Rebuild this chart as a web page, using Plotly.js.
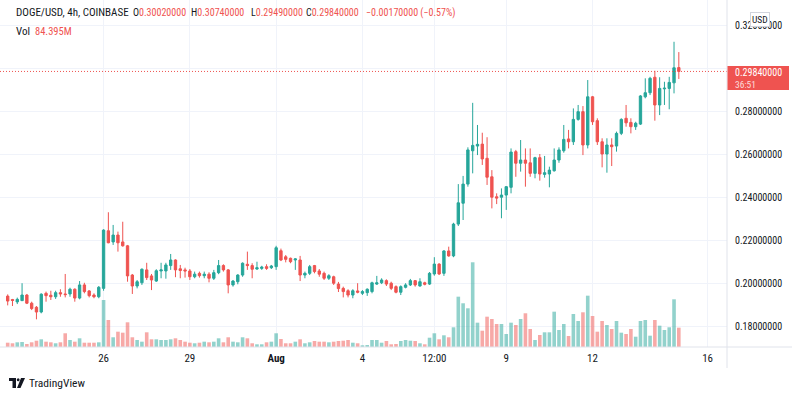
<!DOCTYPE html>
<html>
<head>
<meta charset="utf-8">
<script src="https://cdn.plot.ly/plotly-3.0.1.min.js"></script>
<style>html,body{margin:0;padding:0;background:#fff;}#chart{width:800px;height:397px;}</style>
</head>
<body>
<div id="chart"></div>
<script>
// 4h candles, DOGE/USD (Coinbase), starting 2021-07-22 16:00
const startTime = '2021-07-22T16:00:00Z';
const open = [
.1939,.1923,.1912,.1918,.1944,.1906,.1887,.1865,.1952,.1943,
.1936,.1955,.1949,.1949,.1971,.1930,.1991,.1963,.1944,.1936,
.1975,.2243,.2191,.2223,.2191,.2173,.2037,.1986,.2001,.2061,
.2033,.2009,.2056,.2056,.2081,.2107,.2066,.2061,.2056,.2029,
.2045,.2034,.2041,.2022,.2048,.2081,.2061,.1991,.2006,.2037,
.2087,.2081,.2065,.2068,.2076,.2071,.2076,.2150,.2122,.2115,
.2107,.2107,.2037,.2045,.2081,.2056,.2045,.2022,.2029,.1995,
.1975,.1964,.1944,.1963,.1952,.1955,.1960,.1995,.2001,.2011,
.1999,.1983,.1957,.1980,.1991,.2011,.1986,.2001,.1995,.2042,
.2088,.2045,.2149,.2126,.2274,.2371,.2460,.2615,.2637,.2646,
.2580,.2494,.2401,.2399,.2409,.2445,.2611,.2557,.2572,.2559,
.2510,.2583,.2505,.2507,.2522,.2572,.2615,.2670,.2657,.2761,
.2797,.2642,.2866,.2755,.2657,.2600,.2642,.2637,.2696,.2766,
.2747,.2727,.2739,.2866,.2885,.2957,.2828,.2903,.2905,.2931,
.3002];
const high = [
.1947,.1926,.1932,.1999,.1949,.1913,.1893,.1952,.1960,.1964,
.1964,.1971,.2042,.1978,.1975,.2009,.2001,.1967,.1952,.1986,
.2250,.2329,.2270,.2239,.2285,.2177,.2042,.2014,.2068,.2094,
.2042,.2064,.2094,.2094,.2135,.2110,.2084,.2071,.2065,.2053,
.2053,.2053,.2050,.2061,.2107,.2087,.2065,.2014,.2041,.2096,
.2146,.2092,.2099,.2080,.2087,.2084,.2173,.2160,.2130,.2118,
.2115,.2126,.2053,.2084,.2084,.2065,.2053,.2041,.2034,.2005,
.1983,.1971,.1971,.1999,.1967,.1975,.2006,.2033,.2022,.2017,
.2006,.1989,.1989,.1999,.2019,.2014,.2022,.2006,.2051,.2120,
.2092,.2153,.2169,.2280,.2460,.2498,.2631,.2838,.2735,.2699,
.2678,.2525,.2417,.2440,.2451,.2626,.2619,.2665,.2626,.2626,
.2587,.2600,.2591,.2541,.2626,.2631,.2735,.2712,.2812,.2828,
.2823,.2944,.2870,.2766,.2673,.2673,.2673,.2704,.2766,.2828,
.2766,.2750,.2874,.2952,.2959,.2987,.2957,.2936,.2959,.3122,
.3074];
const low = [
.1896,.1893,.1902,.1916,.1902,.1874,.1831,.1859,.1913,.1921,
.1926,.1936,.1933,.1936,.1913,.1924,.1952,.1933,.1929,.1929,
.1964,.2185,.2177,.2146,.2169,.2006,.1949,.1975,.1991,.2014,
.1967,.2005,.2022,.2020,.2061,.2027,.2022,.2025,.2014,.2022,
.2025,.2022,.2003,.2014,.2041,.2053,.1952,.1983,.1994,.2029,
.2061,.2022,.2061,.2061,.2061,.2065,.2061,.2102,.2096,.2092,
.2061,.2009,.2022,.2037,.2045,.2029,.2014,.2014,.1991,.1958,
.1933,.1933,.1929,.1952,.1944,.1940,.1952,.1991,.1995,.1986,
.1967,.1952,.1944,.1975,.1986,.1983,.1983,.1989,.1991,.2034,
.2037,.2033,.2122,.2120,.2265,.2293,.2448,.2510,.2595,.2549,
.2456,.2347,.2367,.2301,.2340,.2417,.2494,.2518,.2448,.2494,
.2487,.2476,.2490,.2445,.2518,.2559,.2606,.2626,.2642,.2755,
.2595,.2626,.2735,.2642,.2538,.2513,.2544,.2611,.2688,.2727,
.2696,.2712,.2735,.2859,.2874,.2755,.2781,.2828,.2808,.2882,
.2949];
const close = [
.1916,.1919,.1924,.1944,.1906,.1881,.1865,.1948,.1941,.1936,
.1955,.1949,.1946,.1971,.1930,.1991,.1960,.1941,.1936,.1980,
.2246,.2187,.2223,.2187,.2173,.2033,.1986,.2006,.2064,.2025,
.2014,.2057,.2061,.2084,.2107,.2061,.2058,.2056,.2029,.2041,
.2034,.2041,.2022,.2048,.2081,.2061,.1991,.2009,.2037,.2092,
.2081,.2064,.2071,.2074,.2068,.2079,.2164,.2107,.2110,.2099,
.2112,.2037,.2045,.2076,.2053,.2041,.2022,.2034,.1999,.1974,
.1960,.1944,.1964,.1957,.1960,.1971,.2001,.2001,.2014,.1995,
.1975,.1957,.1983,.1991,.2011,.1991,.2006,.1994,.2045,.2088,
.2042,.2149,.2126,.2274,.2373,.2460,.2619,.2640,.2645,.2577,
.2492,.2399,.2395,.2409,.2448,.2609,.2557,.2572,.2557,.2510,
.2583,.2507,.2513,.2525,.2572,.2619,.2668,.2657,.2761,.2797,
.2642,.2866,.2750,.2657,.2600,.2642,.2634,.2696,.2761,.2745,
.2727,.2743,.2870,.2885,.2952,.2828,.2905,.2906,.2933,.3001,
.2984];
// volume, millions of DOGE
const volume = [
18.8,16.2,20.5,21.9,13.1,20.5,27.5,33.6,23.2,20.5,
16.2,20.5,59.9,30.6,23.2,38.0,18.8,18.8,18.8,20.5,
205.4,118.0,42.4,66.9,62.5,107.9,42.4,30.6,23.2,64.2,
33.6,33.6,30.6,30.6,33.6,38.0,30.6,23.2,18.8,16.2,
18.8,23.2,20.5,23.2,38.0,20.5,42.4,23.2,20.5,42.4,
38.0,16.2,11.8,11.8,20.5,23.2,59.9,35.0,16.2,16.2,
23.2,33.6,16.2,20.5,26.2,23.2,23.2,20.5,23.2,26.2,
27.5,30.6,18.8,16.2,7.4,8.7,30.6,30.6,18.8,26.2,
11.8,13.1,26.2,30.6,27.5,26.2,16.2,11.8,40.6,59.9,
33.6,51.1,42.4,86.1,219.8,191.0,169.1,370.1,106.2,71.2,
132.4,122.4,100.5,100.5,56.8,106.2,96.1,122.4,147.3,78.7,
30.6,52.4,64.2,64.2,154.3,74.3,100.5,48.1,144.2,113.6,
151.6,224.2,135.5,66.9,113.6,96.1,78.7,113.6,62.5,56.8,
78.7,45.0,113.6,118.0,49.4,118.0,93.1,74.3,86.1,208.4,
84.395];
const tickDates = ['2021-07-26','2021-07-29','2021-08-01','2021-08-04','2021-08-06 12:00','2021-08-09','2021-08-12','2021-08-16'];
const tickLabels = ['26','29','<b>Aug</b>','4','12:00','9','12','16'];
const priceTicks = [0.18,0.20,0.22,0.24,0.26,0.28,0.30,0.32];

const t0 = Date.parse(startTime);
const fmt = d => new Date(d).toISOString().slice(0,16).replace('T',' ');
const times = open.map((_, i) => fmt(t0 + i*4*3600*1000));
const n = close.length;
const UP = '#26a69a', DN = '#ef5350';
const volColors = close.map((c, i) => c >= open[i] ? 'rgba(38,166,154,0.5)' : 'rgba(239,83,80,0.5)');

const W = 727, H = 347; // plot area in px
const px = x => x / W, py = y => (H - y) / H;
const FONT = '"Roboto Condensed", Roboto, "Liberation Sans", sans-serif';
const DARK = '#131722';

const last = n - 1;
const lastClose = close[last];
const chg = lastClose - close[last-1];
const pct = chg / close[last-1] * 100;
const red = s => '<span style="color:#ef5350">' + s + '</span>';
const sgn = v => (v < 0 ? '\u2212' : '+');

const VAL = {family: FONT, size: 10, color: DARK};
const annotations = [
  {x: px(14), y: py(13), text: 'DOGE/USD, 4h, COINBASE', font: {family: FONT, size: 11, color: DARK}},
  {x: px(131), y: py(13), text: 'O' + red(open[last].toFixed(8)), font: VAL},
  {x: px(189), y: py(13), text: 'H' + red(high[last].toFixed(8)), font: VAL},
  {x: px(249), y: py(13), text: 'L' + red(low[last].toFixed(8)), font: VAL},
  {x: px(304), y: py(13), text: 'C' + red(lastClose.toFixed(8)), font: VAL},
  {x: px(364), y: py(13), text: red(sgn(chg) + Math.abs(chg).toFixed(8) + ' (' + sgn(pct) + Math.abs(pct).toFixed(2) + '%)'), font: VAL},
  {x: px(14), y: py(31), text: 'Vol', font: {family: FONT, size: 11, color: DARK}},
  {x: px(33), y: py(31), text: red(volume[last].toFixed(3) + 'M'), font: {family: FONT, size: 10.5, color: DARK}},
  {x: px(733), y: py(72.5), text: lastClose.toFixed(8), font: {family: FONT, size: 10, color: '#ffffff'}},
  {x: px(733), y: py(84), text: '36:51', font: {family: FONT, size: 9.5, color: 'rgba(255,255,255,0.8)'}},
  {x: px(760), y: py(19.5), text: 'USD', xanchor: 'center', font: {family: FONT, size: 9.5, color: DARK},
   bgcolor: '#ffffff', bordercolor: '#d1d4dc', borderwidth: 1, borderpad: 1},
  {x: px(27), y: py(383), text: 'TradingView', font: {family: FONT, size: 11.5, color: DARK}}
].map(a => Object.assign({xref: 'paper', yref: 'paper', xanchor: 'left', yanchor: 'middle', showarrow: false}, a));

const shapes = [
  {type: 'line', xref: 'paper', yref: 'y', x0: 0, x1: 1, y0: lastClose, y1: lastClose,
   line: {color: DN, width: 1, dash: '1px,2px'}},
  {type: 'line', xref: 'paper', yref: 'paper', x0: 0, x1: px(792), y0: 0, y1: 0, line: {color: '#e0e3eb', width: 1}},
  {type: 'line', xref: 'paper', yref: 'paper', x0: 1, x1: 1, y0: py(368), y1: 1, line: {color: '#e0e3eb', width: 1}},
  {type: 'rect', xref: 'paper', yref: 'paper', x0: px(727.5), x1: px(789), y0: py(90), y1: py(66),
   fillcolor: DN, line: {width: 0}},
  // TradingView logo
  {type: 'rect', xref: 'paper', yref: 'paper', x0: px(9), x1: px(16), y0: py(381), y1: py(378), fillcolor: DARK, line: {width: 0}},
  {type: 'rect', xref: 'paper', yref: 'paper', x0: px(12.5), x1: px(16), y0: py(388), y1: py(378), fillcolor: DARK, line: {width: 0}},
  {type: 'circle', xref: 'paper', yref: 'paper', x0: px(16.8), x1: px(19.6), y0: py(381.2), y1: py(378.2), fillcolor: DARK, line: {width: 0}},
  {type: 'path', xref: 'paper', yref: 'paper', fillcolor: DARK, line: {width: 0},
   path: 'M' + px(21) + ',' + py(378) + ' L' + px(25) + ',' + py(378) + ' L' + px(20.5) + ',' + py(388) + ' L' + px(17) + ',' + py(388) + ' Z'}
];

const data = [
  {type: 'bar', x: times, y: volume, xaxis: 'x', yaxis: 'y2', marker: {color: volColors, line: {width: 0}}, hoverinfo: 'skip'},
  {type: 'candlestick', x: times, open: open, high: high, low: low, close: close, xaxis: 'x', yaxis: 'y',
   increasing: {line: {color: UP, width: 1}, fillcolor: UP},
   decreasing: {line: {color: DN, width: 1}, fillcolor: DN},
   whiskerwidth: 0, hoverinfo: 'skip'}
];

const layout = {
  width: 800, height: 397,
  margin: {l: 0, r: 73, t: 0, b: 50, pad: 0},
  paper_bgcolor: '#ffffff', plot_bgcolor: '#ffffff',
  showlegend: false, hovermode: false, dragmode: false,
  bargap: 0.25,
  font: {family: FONT, size: 11, color: DARK},
  xaxis: {
    type: 'date', range: ['2021-07-22 09:35', '2021-08-16 16:12'],
    rangeslider: {visible: false},
    tickmode: 'array', tickvals: tickDates, ticktext: tickLabels,
    tickfont: {family: FONT, size: 11, color: DARK},
    showgrid: true, gridcolor: '#f0f3fa', gridwidth: 1,
    zeroline: false, showline: false, ticks: '', ticklabelstandoff: 3, fixedrange: true
  },
  yaxis: {
    side: 'right', range: [0.17023, 0.33163],
    tickmode: 'array', tickvals: priceTicks,
    // the 0.30 label sits under the last-price marker in the reference
    ticktext: priceTicks.map(v => Math.abs(v - 0.30) < 1e-9 ? '' : v.toFixed(8)),
    tickfont: {family: FONT, size: 10, color: DARK},
    showgrid: true, gridcolor: '#f0f3fa', gridwidth: 1,
    zeroline: false, showline: false, ticks: '', ticklabelstandoff: 7, fixedrange: true
  },
  yaxis2: {overlaying: 'y', range: [0, 1516], visible: false, fixedrange: true},
  annotations: annotations,
  shapes: shapes
};

Plotly.newPlot('chart', data, layout, {displayModeBar: false, staticPlot: true});
</script>
</body>
</html>
